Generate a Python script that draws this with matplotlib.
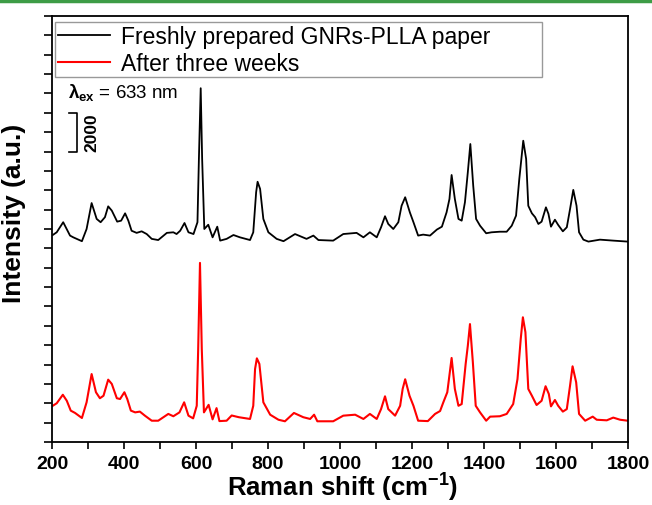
import matplotlib
matplotlib.use("Agg")
import matplotlib.pyplot as plt
from matplotlib.ticker import MultipleLocator

plt.rcParams["font.family"] = ["Liberation Sans", "DejaVu Sans"]
plt.rcParams["mathtext.fontset"] = "custom"
plt.rcParams["mathtext.rm"] = "Liberation Sans"
plt.rcParams["mathtext.bf"] = "Liberation Sans:bold"
plt.rcParams["mathtext.it"] = "Liberation Sans:italic"

# Raman shift (cm-1) and intensity
fresh_x = [202, 213, 231, 250, 259, 283, 296, 310, 324, 335, 347, 356, 366, 381, 392,
           403, 412, 421, 435, 449, 463, 477, 495, 519, 537, 546, 556, 568, 579, 593,
           604, 608, 613, 617, 623, 634, 646, 659, 667, 685, 704, 722, 750, 759, 767,
           771, 778, 787, 801, 824, 843, 875, 907, 926, 940, 981, 1009, 1046, 1065, 1083,
           1102, 1114, 1125, 1134, 1148, 1162, 1171, 1181, 1194, 1204, 1217, 1231, 1250, 1269, 1283,
           1296, 1304, 1310, 1319, 1329, 1338, 1347, 1355, 1362, 1370, 1378, 1389, 1406, 1421, 1444,
           1463, 1477, 1489, 1498, 1509, 1517, 1523, 1533, 1542, 1551, 1560, 1572, 1579, 1586, 1597,
           1606, 1619, 1630, 1639, 1648, 1657, 1664, 1676, 1690, 1722, 1759, 1799]
fresh_y = [10690, 10830, 11350, 10660, 10570, 10370, 11000, 12340, 11520, 11350, 11610, 12170, 11950, 11380, 11430,
           11810, 11430, 10910, 10800, 10880, 10740, 10490, 10430, 10800, 10830, 10740, 10910, 11310, 10830, 10740,
           11350, 14620, 18270, 14620, 11000, 11220, 10570, 11120, 10400, 10490, 10690, 10570, 10430, 10830, 12900,
           13440, 13070, 11520, 10830, 10490, 10370, 10740, 10490, 10660, 10430, 10400, 10740, 10800, 10570, 10830,
           10570, 11090, 11660, 11260, 11000, 11350, 12200, 12640, 11860, 11350, 10660, 10710, 10660, 10970, 11120,
           11860, 12550, 13790, 12550, 11520, 11430, 12380, 13930, 15390, 13240, 11520, 11170, 10780, 10830, 10860,
           10860, 11170, 11690, 13580, 15560, 14620, 12200, 11810, 11610, 11260, 11380, 12120, 11780, 11120, 11480,
           11210, 10880, 11090, 12030, 13020, 12200, 10830, 10450, 10350, 10450, 10400, 10350]

aged_x = [202, 213, 230, 241, 252, 264, 283, 296, 310, 322, 333, 343, 356, 366, 380,
          389, 401, 409, 419, 431, 444, 458, 477, 495, 523, 537, 554, 567, 579, 592,
          602, 606, 611, 616, 622, 635, 646, 657, 665, 685, 699, 719, 750, 759, 764,
          769, 776, 787, 806, 829, 847, 872, 898, 917, 928, 937, 981, 1009, 1042, 1065,
          1083, 1102, 1114, 1125, 1134, 1153, 1167, 1174, 1181, 1193, 1204, 1217, 1244, 1264, 1278,
          1287, 1298, 1310, 1319, 1329, 1338, 1349, 1355, 1361, 1369, 1377, 1389, 1406, 1417, 1444,
          1463, 1481, 1493, 1502, 1508, 1515, 1523, 1533, 1546, 1560, 1571, 1580, 1586, 1597, 1606,
          1619, 1630, 1639, 1646, 1656, 1664, 1681, 1702, 1713, 1741, 1759, 1778, 1799]
aged_y = [1870, 2000, 2440, 2130, 1620, 1500, 1240, 2050, 3510, 2570, 2260, 2390, 3220, 3000, 2260,
          2220, 2570, 2220, 1620, 1530, 1570, 1360, 1100, 1100, 1450, 1330, 1530, 2050, 1360, 1220,
          1870, 4800, 9250, 4800, 1530, 1920, 1170, 1750, 1080, 1100, 1370, 1280, 1190, 1870, 3770,
          4320, 4030, 2050, 1410, 1150, 1070, 1500, 1280, 1190, 1410, 1070, 1070, 1360, 1410, 1190,
          1450, 1190, 1700, 2360, 1700, 1360, 1870, 2740, 3240, 2390, 1870, 1100, 1080, 1450, 1600,
          2050, 2570, 4340, 2740, 1870, 1960, 4030, 4970, 6090, 4120, 1870, 1530, 1100, 1310, 1330,
          1450, 1960, 3250, 5320, 6440, 5670, 2740, 2390, 1910, 2130, 2880, 2480, 1840, 2170, 1870,
          1570, 1700, 2910, 3910, 3080, 1450, 1100, 1310, 1150, 1120, 1260, 1150, 1100]

labels = ["Freshly prepared GNRs-PLLA paper", "After three weeks"]

fig = plt.figure(figsize=(6.52, 5.06), dpi=100)
ax = fig.add_axes([0.0798, 0.1245, 0.8834, 0.8419])

# journal header rule
fig.add_artist(plt.Line2D([0, 1], [0.997, 0.997], transform=fig.transFigure,
                          color="#3d9c46", lw=2.5))

ax.plot(fresh_x, fresh_y, color="black", lw=1.3, label=labels[0])
ax.plot(aged_x, aged_y, color="red", lw=1.5, label=labels[1])

ax.set_xlim(200, 1800)
ax.set_ylim(0, 22000)
ax.xaxis.set_major_locator(MultipleLocator(200))
ax.xaxis.set_minor_locator(MultipleLocator(100))
ax.yaxis.set_major_locator(MultipleLocator(1000))
ax.set_yticklabels([])
ax.tick_params(axis="both", which="both", direction="out", width=1.2)
ax.tick_params(axis="x", which="both", length=5, labelsize=14, pad=4)
ax.tick_params(axis="y", length=6)
for lab in ax.get_xticklabels():
    lab.set_fontweight("bold")
for s in ax.spines.values():
    s.set_linewidth(1.3)

ax.set_xlabel(r"Raman shift (cm$^{\mathbf{-1}}$)", fontsize=18.5, fontweight="bold")
ax.xaxis.set_label_coords(0.505, -0.068)
ax.set_ylabel("Intensity (a.u.)", fontsize=19, fontweight="bold")
ax.yaxis.set_label_coords(-0.045, 0.54)

leg = ax.legend(loc="upper left", bbox_to_anchor=(0.005, 0.5, 0.845, 0.486), mode="expand",
                borderaxespad=0, fontsize=16.5, frameon=True, fancybox=False,
                edgecolor="#808080", handlelength=2.3, labelspacing=0.17,
                borderpad=0.12, handletextpad=0.45)
leg.get_frame().set_linewidth(1.0)

ax.text(244, 18080, r"$\mathbf{\lambda_{ex}}$ = 633 nm", fontsize=13.5, va="center", ha="left")

# 2000-count scale bar
ax.plot([247, 269, 269, 247], [17000, 17000, 15000, 15000], color="black", lw=1.2)
ax.text(289, 16000, "2000", rotation=90, fontsize=12.5, fontweight="bold", va="center", ha="left")

plt.savefig("out.png", dpi=100)
